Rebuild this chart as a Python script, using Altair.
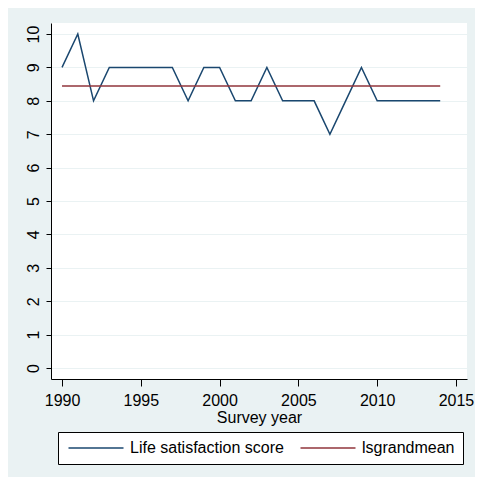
import altair as alt
import pandas as pd

# ---- data ----
years = list(range(1990, 2015))
ls_score = [9, 10, 8, 9, 9, 9, 9, 9, 8, 9, 9, 8, 8, 9, 8, 8, 8, 7, 8, 9, 8, 8, 8, 8, 8]
ls_grandmean = 8.44
series_names = ["Life satisfaction score", "lsgrandmean"]
series_colors = ["#1a476f", "#90353b"]
x_ticks = [1990, 1995, 2000, 2005, 2010, 2015]
y_ticks = list(range(0, 11))

df = pd.DataFrame({
    "year": years + years,
    "value": ls_score + [ls_grandmean] * len(years),
    "series": [series_names[0]] * len(years) + [series_names[1]] * len(years),
})

FONT = "Liberation Sans"

chart = alt.Chart(df).mark_line(strokeWidth=1.5).encode(
    x=alt.X(
        "year:Q",
        scale=alt.Scale(domain=[1989.3, 2015.7], nice=False, zero=False),
        axis=alt.Axis(
            values=x_ticks, format="d", title="Survey year", grid=False,
            domainColor="black", tickColor="black", tickSize=7,
            labelFont=FONT, labelFontSize=16, labelColor="black", labelPadding=6,
            titleFont=FONT, titleFontSize=16, titleFontWeight="normal",
            titleColor="black", titlePadding=1,
        ),
    ),
    y=alt.Y(
        "value:Q",
        scale=alt.Scale(domain=[-0.33, 10.33], nice=False, zero=False),
        axis=alt.Axis(
            values=y_ticks, title=None, grid=True, gridColor="#eaf2f3", gridWidth=1,
            domainColor="black", tickColor="black", tickSize=5,
            labelFont=FONT, labelFontSize=16, labelColor="black",
            labelAngle=270, labelAlign="center", labelBaseline="bottom", labelPadding=5,
        ),
    ),
    color=alt.Color(
        "series:N",
        scale=alt.Scale(domain=series_names, range=series_colors),
        legend=alt.Legend(
            orient="none", legendX=7, legendY=409, direction="horizontal", title=None,
            symbolType="M-1,0H9", symbolSize=121, symbolStrokeWidth=1.5,
            symbolFillColor="transparent",
            labelOffset=48, labelFont=FONT, labelFontSize=16, labelColor="black",
            labelLimit=400, strokeColor="black", fillColor="white", padding=8,
            columnPadding=13, cornerRadius=0,
        ),
    ),
).properties(
    width=416,
    height=356,
    background="#eaf2f3",
    padding={"left": 43, "top": 15, "right": 8, "bottom": 98},
    autosize="none",
).configure_view(fill="white", stroke=None)

chart.save("out.html", embed_options={"renderer": "svg", "actions": False})
